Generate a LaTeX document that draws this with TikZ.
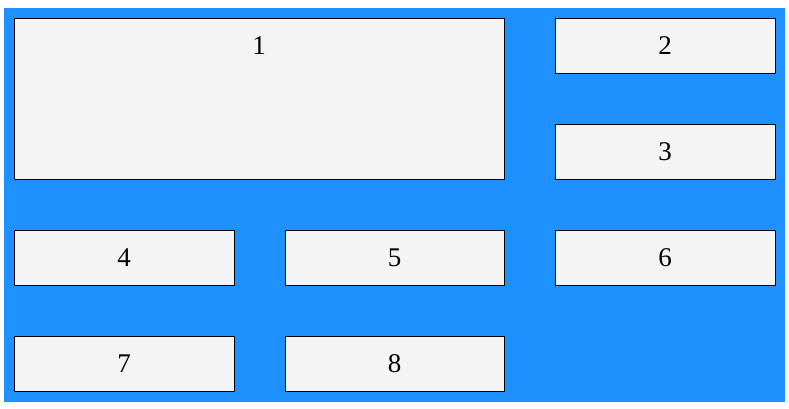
\documentclass[tikz,border=0pt]{standalone}
\usepackage{fontspec}
\setmainfont{Liberation Serif}
\usepackage{xcolor}
\definecolor{skyblue}{HTML}{1E90FF}
\definecolor{panelgray}{HTML}{F4F4F4}
\tikzset{
  panel/.style={draw=black,fill=panelgray,line width=0.8pt,inner sep=0pt,
    minimum width=220pt,minimum height=55pt,
    font=\fontsize{27}{30}\selectfont},
  num/.style={inner sep=0pt,font=\fontsize{27}{30}\selectfont}
}

\begin{document}
\begin{tikzpicture}[x=1pt,y=-1pt]
\useasboundingbox (0,0) rectangle (789,408);
\fill[white] (0,0) rectangle (789,408);
\fill[skyblue] (4,8) rectangle (785,402);
% top row
\node[panel,minimum width=490pt,minimum height=161pt] (p1) at (259,98.5) {};
\node[num] (n1) at ([yshift=-27.5pt]p1.north) {1};
\node[panel] (p2) at (665,45.5) {2};
\node[panel] (p3) at (665,151.5) {3};
% middle row
\node[panel] (p4) at (124,257.5) {4};
\node[panel,minimum width=219pt] (p5) at (394.5,257.5) {5};
\node[panel] (p6) at (665,257.5) {6};
% bottom row
\node[panel] (p7) at (124,363.5) {7};
\node[panel,minimum width=219pt] (p8) at (394.5,363.5) {8};
\end{tikzpicture}
\end{document}
